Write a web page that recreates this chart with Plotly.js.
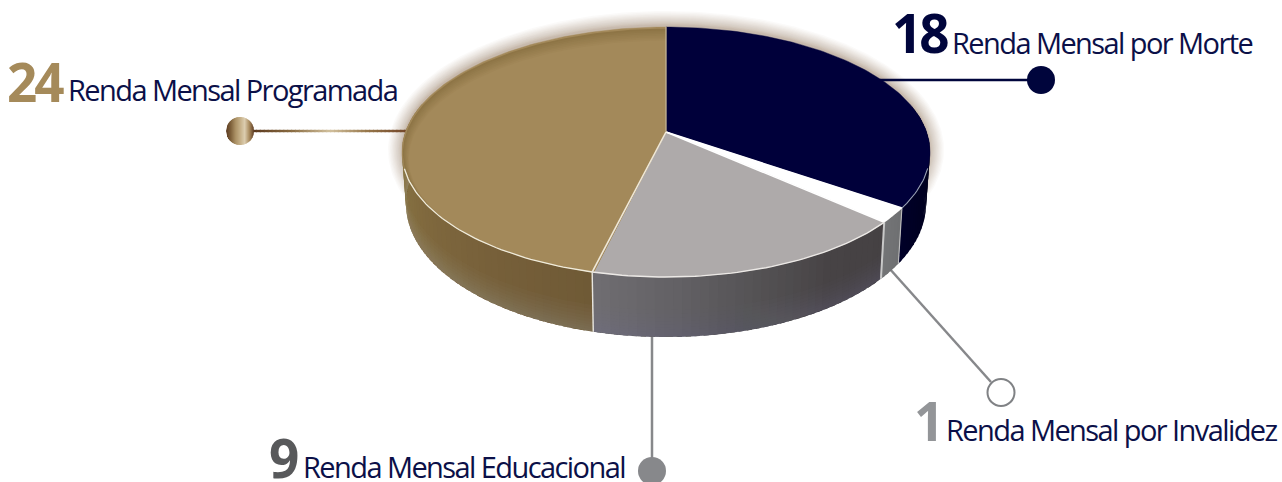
<!DOCTYPE html>
<html>
<head>
<meta charset="utf-8">
<script src="https://cdn.plot.ly/plotly-3.0.1.min.js"></script>
<style>
html,body{margin:0;padding:0;background:#fff;overflow:hidden}
#chart{width:1282px;height:482px}
</style>
</head>
<body>
<div id="chart"></div>
<script>
// Benefit counts, clockwise from twelve o'clock
const categories = ['Renda Mensal por Morte', 'Renda Mensal por Invalidez', 'Renda Mensal Educacional', 'Renda Mensal Programada'];
const values = [18, 1, 9, 24];

// Slice appearance
const topColors = ['#00003a', '#ffffff', '#aeaaaa', '#a3895a'];
const wallStops = [
  ['#000008', '#00001c', '#000028'],
  ['#6f7072', '#737476'],
  ['#454143', '#474345', '#545254', '#636165', '#706e72'],
  ['#6f5a36', '#77603a', '#80693e', '#897544', '#8b7846']
];
const wallTints = ['rgba(0,0,40,0.0)', 'rgba(0,0,0,0.0)', 'rgba(125,125,175,0.022)', 'rgba(175,165,160,0.035)'];
const numberColors = ['#00053c', '#939598', '#58595b', '#a58a5a'];
const labelInk = '#0b1048';

// Camera: unit disc projected onto the page with foreshortening toward the viewer
const cam = {cx: 666, cy: 132, rx: 260.6, a: 100.68, c: -0.16, drop: 50.5, shrink: 0.985};
const rimCentre = {x: 666, y: 152, rx: 264, ry: 125};
function project(theta, r, depth) {
  const u = r * Math.sin(theta), v = -r * Math.cos(theta);
  const w = 1 + cam.c * v;
  const x = cam.rx * u / w;
  const y = (cam.a * v + cam.cy) / w;
  const k = 1 + (cam.shrink - 1) * (depth || 0);
  return [cam.cx + x * k, y + (depth || 0) * cam.drop / w];
}
// Grow or shrink a rim point by a pixel amount, with an optional vertical offset
function offsetRim(p, d, dy) {
  return [rimCentre.x + (p[0] - rimCentre.x) * (1 + d / rimCentre.rx),
          rimCentre.y + (p[1] - rimCentre.y) * (1 + d / rimCentre.ry) + dy];
}

const total = values.reduce((s, n) => s + n, 0);
const bounds = [0];
values.forEach(n => bounds.push(bounds[bounds.length - 1] + n / total * 2 * Math.PI));

const traces = [];
function poly(pts, fill, lineColor, lineWidth) {
  traces.push({
    type: 'scatter', mode: 'lines', fill: 'toself', fillcolor: fill,
    x: pts.map(p => p[0]), y: pts.map(p => p[1]),
    line: {color: lineColor || 'rgba(0,0,0,0)', width: lineWidth || 0},
    hoverinfo: 'skip', showlegend: false
  });
}
function path(pts, color, width) {
  traces.push({
    type: 'scatter', mode: 'lines',
    x: pts.map(p => p[0]), y: pts.map(p => p[1]),
    line: {color: color, width: width},
    hoverinfo: 'skip', showlegend: false
  });
}
function hexRgb(h) { return [1, 3, 5].map(i => parseInt(h.slice(i, i + 2), 16)); }
function mix(stops, t) {
  const f = Math.min(Math.max(t, 0), 1) * (stops.length - 1);
  const i = Math.min(Math.floor(f), stops.length - 2);
  const a = hexRgb(stops[i]), b = hexRgb(stops[i + 1]);
  return 'rgb(' + a.map((ch, k) => Math.round(ch + (b[k] - ch) * (f - i))).join(',') + ')';
}
function arc(from, to, depth, step) {
  const n = Math.max(2, Math.ceil((to - from) / (step || 0.02)));
  const out = [];
  for (let i = 0; i <= n; i++) out.push(project(from + (to - from) * i / n, 1, depth));
  return out;
}
const apex = project(0, 0, 0);

// Soft halo behind the disc
const haloLayers = 16, haloReach = 14;
for (let i = haloLayers; i >= 1; i--) {
  const d = haloReach * Math.pow(i / haloLayers, 1.5);
  poly(arc(0, 2 * Math.PI, 0).map(p => offsetRim(p, d, -2)), 'rgba(130,105,65,0.033)');
}

// Leader lines run under the disc
const goldLine = ['#5c3a1f', '#8a6c42', '#d2c19e', '#96764a', '#74472a'];
const goldSteps = 40, goldFrom = 252, goldTo = 408;
for (let i = 0; i < goldSteps; i++) {
  const x0 = goldFrom + (goldTo - goldFrom) * i / goldSteps;
  const x1 = goldFrom + (goldTo - goldFrom) * (i + 1.3) / goldSteps;
  path([[x0, 131], [x1, 131]], mix(goldLine, i / (goldSteps - 1)), 2.4);
}
path([[880, 80], [1030, 80]], '#00053c', 2.5);
path([[889, 268], [991, 382]], '#87888b', 2.5);
path([[652, 330], [652, 460]], '#87888b', 2.5);

// Outer wall, front arc only; each strip overlaps the next so no seams show
const wallStart = 1.35, wallEnd = 4.95;
for (let s = 0; s < values.length; s++) {
  const from = Math.max(bounds[s], wallStart), to = Math.min(bounds[s + 1], wallEnd);
  if (to <= from) continue;
  const strips = Math.max(3, Math.ceil((to - from) / 0.03));
  for (let i = 0; i < strips; i++) {
    const a = from + (to - from) * i / strips;
    const b = Math.min(to, from + (to - from) * (i + 1.6) / strips);
    const pts = [project(a, 1, 0), project(b, 1, 0), project(b, 1, 1), project(a, 1, 1)];
    poly(pts, mix(wallStops[s], (i + 0.5) / strips));
  }
  // Lighter reflection along the lower edge of the wall
  [0.55, 0.62, 0.68, 0.74, 0.79, 0.84, 0.88, 0.92, 0.96].forEach(f => {
    const upper = arc(from, to, f), lower = arc(from, to, 1).reverse();
    poly(upper.concat(lower), wallTints[s]);
  });
}
path([project(bounds[1], 1, 0), project(bounds[1], 1, 1)], '#bdbdbd', 1.1);
path([project(bounds[2], 1, 0), project(bounds[2], 1, 1)], '#c8c8c8', 2);
path([project(bounds[3], 1, 0), project(bounds[3], 1, 1)], '#e8e6e0', 1.4);

// Top face
for (let s = 0; s < values.length; s++) {
  poly([apex].concat(arc(bounds[s], bounds[s + 1], 0), [apex]), topColors[s], topColors[s], 0.4);
}
// Inner shadow on the gold slice, fading out toward the front edge
const shadowLayers = 8;
for (let i = 1; i <= shadowLayers; i++) {
  const d = i * 0.85;
  const rim = arc(bounds[3], bounds[4], 0).map(p => offsetRim(p, -d, d));
  poly([apex].concat(rim, [apex]), mix(['#8b7243', topColors[3]], i / shadowLayers));
}

// Highlights on the slice borders and the front rim
path([project(bounds[1], 1, 0), apex], '#ffffff', 1.6);
path([project(bounds[2], 1, 0), apex], '#ffffff', 1.6);
path([project(bounds[3], 1, 0), apex], '#efe8d8', 1.6);
path([project(bounds[4], 1, 0), apex], '#c4b699', 1.2);
path(arc(1.86, bounds[1], 0), '#9aa3b5', 1.1);
path(arc(bounds[2], bounds[3], 0), '#ece9e6', 1.4);
path(arc(bounds[3], 4.42, 0), '#f0ecdc', 1.3);

// End-point dots
function dot(cx, cy, r, fill, stroke) {
  traces.push({
    type: 'scatter', mode: 'markers', x: [cx], y: [cy],
    marker: {size: r * 2, color: fill, line: {color: stroke || fill, width: stroke ? 2 : 0}},
    hoverinfo: 'skip', showlegend: false, cliponaxis: false
  });
}
dot(1041, 80, 14, '#00053c');
dot(1001, 392.5, 13.5, '#ffffff', '#808285');
dot(652, 471, 14, '#87888b');

// Metallic dot, painted as overlapping vertical bands
const metal = ['#5b3a20', '#7d5f3a', '#a98f63', '#c4ae86', '#dccdaf', '#a98b5f', '#5d3c22'];
const bandCount = 28, metalX = 240, metalY = 131, metalR = 14;
for (let i = 0; i < bandCount; i++) {
  const x0 = -metalR + 2 * metalR * i / bandCount;
  const x1 = Math.min(metalR, -metalR + 2 * metalR * (i + 1.5) / bandCount);
  const h0 = Math.sqrt(Math.max(0, metalR * metalR - x0 * x0)), h1 = Math.sqrt(Math.max(0, metalR * metalR - x1 * x1));
  poly([[metalX + x0, metalY - h0], [metalX + x1, metalY - h1], [metalX + x1, metalY + h1], [metalX + x0, metalY + h0]],
       mix(metal, (i + 0.5) / bandCount));
}

// Text placement: left edge and baseline of each number and label
const numberPos = [[892, 53], [914, 441], [269, 478], [7, 102]];
const labelPos = [[952, 54], [946, 441], [303, 478], [68, 101]];
const numberSize = 53, labelSize = 29;
const annotations = [];
function addText(text, x, baseline, size, weight, color, spacing) {
  annotations.push({
    xref: 'x', yref: 'y', x: x, y: baseline - size * 0.388,
    xanchor: 'left', yanchor: 'middle', showarrow: false, borderpad: 0, borderwidth: 0,
    text: '<span style="letter-spacing:' + spacing + 'px">' + text + '</span>',
    font: {family: 'Open Sans', size: size, weight: weight, color: color}
  });
}
categories.forEach((name, i) => {
  addText(String(values[i]), numberPos[i][0], numberPos[i][1], numberSize, 700, numberColors[i], -3);
  addText(name, labelPos[i][0], labelPos[i][1], labelSize, 400, labelInk, -1.58);
});

const hidden = {visible: false, fixedrange: true};
Plotly.newPlot('chart', traces, {
  width: 1282, height: 482,
  margin: {l: 0, r: 0, t: 0, b: 0},
  paper_bgcolor: '#ffffff', plot_bgcolor: '#ffffff',
  showlegend: false,
  xaxis: Object.assign({range: [0, 1282]}, hidden),
  yaxis: Object.assign({range: [482, 0]}, hidden),
  annotations: annotations
}, {displayModeBar: false, staticPlot: true});
</script>
</body>
</html>
